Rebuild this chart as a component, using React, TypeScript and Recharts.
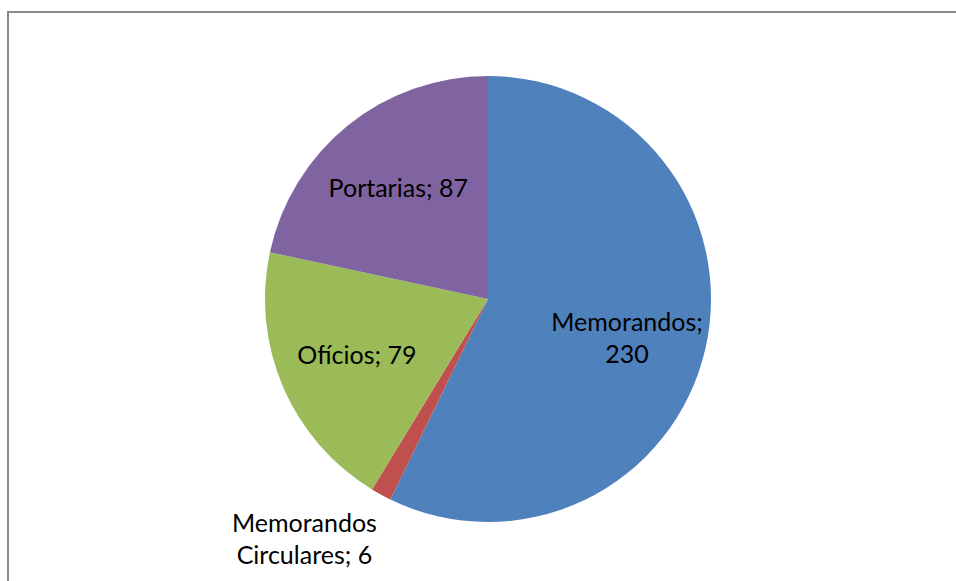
import React from "react";
import { PieChart, Pie, Cell } from "recharts";

const categories = ["Memorandos", "Memorandos Circulares", "Ofícios", "Portarias"];
const values = [230, 6, 79, 87];
const colors = ["#4F81BD", "#C0504D", "#9BBB59", "#8064A2"];

const data = categories.map((name, i) => ({ name, value: values[i] }));

const RAD = Math.PI / 180;
const FONT = "Lato, Carlito, Calibri, sans-serif";
const FS = 25;

const renderLabel = (props: any) => {
  const { cx, cy, midAngle, outerRadius, percent, name, value } = props;
  const text = `${name}; ${value}`;
  if (percent < 0.05) {
    const r = outerRadius + 18;
    const px = cx + r * Math.cos(-midAngle * RAD);
    const py = cy + r * Math.sin(-midAngle * RAD);
    const words = name.split(" ");
    const l1 = words[0];
    const l2 = `${words.slice(1).join(" ")}; ${value}`;
    return (
      <text x={px - 68} y={py + 22} textAnchor="middle" fill="#000" fontSize={FS} fontFamily={FONT}>
        <tspan x={px - 68} dy={0}>{l1}</tspan>
        <tspan x={px - 68} dy={32}>{l2}</tspan>
      </text>
    );
  }
  const r = outerRadius * 0.64;
  const x = cx + r * Math.cos(-midAngle * RAD);
  const y = cy + r * Math.sin(-midAngle * RAD);
  if (percent > 0.4) {
    return (
      <text x={x} y={y} textAnchor="middle" fill="#000" fontSize={FS} fontFamily={FONT}>
        <tspan x={x} dy={0}>{`${name};`}</tspan>
        <tspan x={x} dy={32}>{`${value}`}</tspan>
      </text>
    );
  }
  return (
    <text x={x} y={y + 9} textAnchor="middle" fill="#000" fontSize={FS} fontFamily={FONT}>
      {text}
    </text>
  );
};

export default function App() {
  return (
    <div
      style={{
        position: "absolute",
        left: 0,
        top: 0,
        width: 956,
        height: 581,
        overflow: "hidden",
        background: "#fff",
      }}
    >
      <div
        style={{
          position: "absolute",
          left: 7,
          top: 11,
          width: 1000,
          height: 700,
          border: "2px solid #8a8a8a",
          boxSizing: "border-box",
        }}
      />
      <div style={{ position: "absolute", left: 0, top: 0 }}>
        <PieChart width={956} height={581} margin={{ top: 0, right: 0, bottom: 0, left: 0 }}>
          <Pie
            data={data}
            dataKey="value"
            nameKey="name"
            cx={488}
            cy={299}
            outerRadius={223}
            startAngle={90}
            endAngle={-270}
            label={renderLabel}
            labelLine={false}
            isAnimationActive={false}
            stroke="none"
          >
            {data.map((d, i) => (
              <Cell key={d.name} fill={colors[i]} stroke="none" />
            ))}
          </Pie>
        </PieChart>
      </div>
    </div>
  );
}
